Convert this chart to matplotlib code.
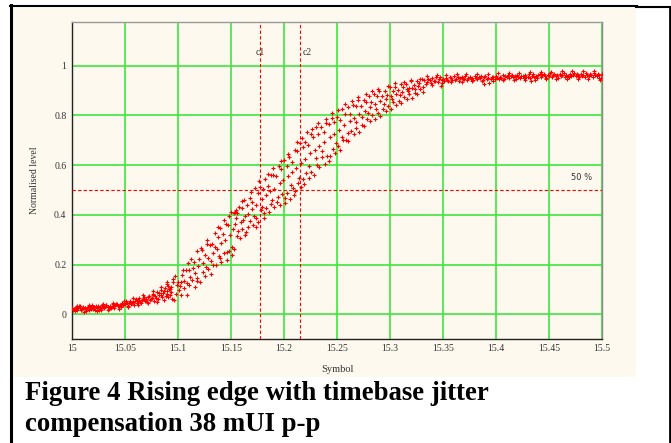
import matplotlib
matplotlib.use("Agg")
import matplotlib.pyplot as plt
from matplotlib.lines import Line2D
from matplotlib.patches import Rectangle

# ---- data -------------------------------------------------------------
# lead-in of the edge (single band)
lead_sym = [
    15.0000, 15.0010, 15.0025, 15.0035, 15.0050, 15.0060, 15.0075, 15.0085,
    15.0100, 15.0110, 15.0125, 15.0135, 15.0150, 15.0160, 15.0175, 15.0185,
    15.0200, 15.0210, 15.0225, 15.0235, 15.0250, 15.0260, 15.0275, 15.0285,
    15.0300, 15.0310, 15.0325, 15.0335, 15.0350, 15.0360, 15.0375, 15.0385,
    15.0400, 15.0410, 15.0425, 15.0435, 15.0450, 15.0460, 15.0475, 15.0485,
    15.0500, 15.0510, 15.0525, 15.0535, 15.0550, 15.0560, 15.0575, 15.0585,
    15.0600, 15.0610, 15.0625, 15.0635, 15.0650, 15.0660, 15.0675, 15.0685,
    15.0700, 15.0710, 15.0725, 15.0735, 15.0750, 15.0760, 15.0775, 15.0785,
    15.0800, 15.0810, 15.0825, 15.0835, 15.0850, 15.0860, 15.0875, 15.0885,
    15.0900, 15.0910, 15.0925, 15.0935,
    15.0018, 15.0043, 15.0068, 15.0093, 15.0118, 15.0143, 15.0168, 15.0193,
    15.0218, 15.0243, 15.0268, 15.0293, 15.0318, 15.0343, 15.0368, 15.0393,
    15.0418, 15.0443, 15.0468, 15.0493, 15.0518, 15.0543, 15.0568, 15.0593,
    15.0618, 15.0643, 15.0668, 15.0693, 15.0718, 15.0743, 15.0768, 15.0793,
    15.0818, 15.0843, 15.0868, 15.0893, 15.0918,
    15.0030, 15.0080, 15.0130, 15.0190, 15.0240, 15.0290, 15.0340, 15.0390,
    15.0440, 15.0490, 15.0530, 15.0580, 15.0620, 15.0670, 15.0720, 15.0760,
    15.0800, 15.0840, 15.0870, 15.0900, 15.0940, 15.0050, 15.0160, 15.0270,
]
lead_level = [
    0.025, 0.018, 0.022, 0.030, 0.016, 0.027, 0.024, 0.019,
    0.031, 0.008, 0.026, 0.020, 0.029, 0.017, 0.023, 0.033,
    0.021, 0.028, 0.035, 0.024, 0.019, 0.030, 0.027, 0.036,
    0.025, 0.033, 0.039, 0.028, 0.022, 0.035, 0.031, 0.040,
    0.027, 0.037, 0.043, 0.032, 0.038, 0.029, 0.045, 0.036,
    0.040, 0.052, 0.034, 0.047, 0.055, 0.041, 0.049, 0.038,
    0.060, 0.046, 0.053, 0.065, 0.044, 0.058, 0.070, 0.052,
    0.063, 0.048, 0.075, 0.058, 0.067, 0.082, 0.055, 0.073,
    0.090, 0.062, 0.078, 0.098, 0.068, 0.085, 0.104, 0.072,
    0.094, 0.115, 0.076, 0.108,
    0.021, 0.027, 0.032, 0.020, 0.027, 0.024, 0.030, 0.026,
    0.018, 0.032, 0.023, 0.030, 0.036, 0.030, 0.026, 0.034,
    0.041, 0.035, 0.040, 0.046, 0.044, 0.050, 0.045, 0.054,
    0.058, 0.051, 0.062, 0.057, 0.068, 0.061, 0.077, 0.066,
    0.084, 0.079, 0.093, 0.083, 0.101,
    0.012, 0.035, 0.014, 0.038, 0.015, 0.041, 0.019, 0.046,
    0.023, 0.055, 0.030, 0.065, 0.036, 0.078, 0.045, 0.092,
    0.050, 0.110, 0.058, 0.128, 0.062, 0.033, 0.036, 0.017,
]

# early-arriving branch of the edge
upper_sym = [
    15.0900, 15.0925, 15.0950, 15.0975, 15.1000, 15.1025, 15.1050, 15.1075,
    15.1100, 15.1125, 15.1150, 15.1175, 15.1200, 15.1225, 15.1250, 15.1275,
    15.1300, 15.1325, 15.1350, 15.1375, 15.1400, 15.1425, 15.1450, 15.1475,
    15.1500, 15.1525, 15.1550, 15.1575, 15.1600, 15.1625, 15.1650, 15.1675,
    15.1700, 15.1725, 15.1750, 15.1775, 15.1800, 15.1825, 15.1850, 15.1875,
    15.1900, 15.1925, 15.1950, 15.1975, 15.2000, 15.2025, 15.2050, 15.2075,
    15.2100, 15.2125, 15.2150, 15.2175, 15.2200, 15.2225, 15.2250, 15.2275,
    15.2300, 15.2325, 15.2350, 15.2375, 15.2400, 15.2425, 15.2450, 15.2475,
    15.2500, 15.2525, 15.2550, 15.2575, 15.2600, 15.2625, 15.2650, 15.2675,
    15.2700, 15.2725, 15.2750, 15.2775, 15.2800, 15.2825, 15.2850, 15.2875,
    15.2900, 15.2925, 15.2950, 15.2975, 15.3000, 15.3025, 15.3050, 15.3075,
    15.3100, 15.3125, 15.3150, 15.3175, 15.3200, 15.3225, 15.3250, 15.3275,
    15.3300,
]
upper_level = [
    0.122, 0.100, 0.129, 0.154, 0.131, 0.129, 0.180, 0.180,
    0.177, 0.222, 0.211, 0.254, 0.223, 0.258, 0.239, 0.281,
    0.280, 0.283, 0.328, 0.312, 0.346, 0.325, 0.365, 0.361,
    0.410, 0.409, 0.387, 0.433, 0.427, 0.458, 0.439, 0.466,
    0.451, 0.507, 0.487, 0.511, 0.504, 0.544, 0.518, 0.560,
    0.561, 0.558, 0.597, 0.585, 0.622, 0.598, 0.632, 0.613,
    0.662, 0.658, 0.689, 0.671, 0.694, 0.682, 0.725, 0.713,
    0.755, 0.725, 0.753, 0.733, 0.771, 0.764, 0.791, 0.772,
    0.792, 0.781, 0.826, 0.807, 0.833, 0.807, 0.842, 0.838,
    0.863, 0.836, 0.860, 0.852, 0.879, 0.854, 0.885, 0.877,
    0.897, 0.879, 0.899, 0.884, 0.915, 0.899, 0.916, 0.902,
    0.926, 0.914, 0.927, 0.912, 0.938, 0.922, 0.939, 0.931,
    0.945,
]

# late-arriving branch of the edge
lower_sym = [
    15.0908, 15.0933, 15.0958, 15.0983, 15.1008, 15.1033, 15.1058, 15.1083,
    15.1108, 15.1133, 15.1158, 15.1183, 15.1208, 15.1233, 15.1258, 15.1283,
    15.1308, 15.1333, 15.1358, 15.1383, 15.1408, 15.1433, 15.1458, 15.1483,
    15.1508, 15.1533, 15.1558, 15.1583, 15.1608, 15.1633, 15.1658, 15.1683,
    15.1708, 15.1733, 15.1758, 15.1783, 15.1808, 15.1833, 15.1858, 15.1883,
    15.1908, 15.1933, 15.1958, 15.1983, 15.2008, 15.2033, 15.2058, 15.2083,
    15.2108, 15.2133, 15.2158, 15.2183, 15.2208, 15.2233, 15.2258, 15.2283,
    15.2308, 15.2333, 15.2358, 15.2383, 15.2408, 15.2433, 15.2458, 15.2483,
    15.2508, 15.2533, 15.2558, 15.2583, 15.2608, 15.2633, 15.2658, 15.2683,
    15.2708, 15.2733, 15.2758, 15.2783, 15.2808, 15.2833, 15.2858, 15.2883,
    15.2908, 15.2933, 15.2958, 15.2983, 15.3008, 15.3033, 15.3058, 15.3083,
    15.3108, 15.3133, 15.3158, 15.3183, 15.3208, 15.3233, 15.3258, 15.3283,
    15.3308,
]
lower_level = [
    0.068, 0.090, 0.058, 0.082, 0.097, 0.076, 0.104, 0.078,
    0.116, 0.138, 0.110, 0.134, 0.131, 0.172, 0.156, 0.183,
    0.162, 0.198, 0.198, 0.234, 0.209, 0.245, 0.219, 0.255,
    0.270, 0.262, 0.313, 0.307, 0.342, 0.317, 0.352, 0.376,
    0.360, 0.387, 0.371, 0.421, 0.407, 0.429, 0.411, 0.458,
    0.432, 0.452, 0.438, 0.482, 0.469, 0.487, 0.463, 0.507,
    0.495, 0.530, 0.512, 0.544, 0.570, 0.550, 0.573, 0.562,
    0.602, 0.593, 0.633, 0.605, 0.638, 0.638, 0.666, 0.648,
    0.675, 0.660, 0.700, 0.701, 0.696, 0.738, 0.724, 0.751,
    0.733, 0.762, 0.756, 0.787, 0.777, 0.800, 0.784, 0.810,
    0.797, 0.826, 0.819, 0.837, 0.825, 0.854, 0.842, 0.859,
    0.848, 0.874, 0.867, 0.886, 0.872, 0.891, 0.885, 0.905,
    0.893,
]

# samples scattered across and between the two branches
mid_sym = [
    15.1015, 15.1060, 15.1110, 15.1160, 15.1190, 15.1240, 15.1285, 15.1330,
    15.1365, 15.1410, 15.1445, 15.1490, 15.1520, 15.1540, 15.1560, 15.1590,
    15.1630, 15.1660, 15.1700, 15.1740, 15.1790, 15.1830, 15.1870, 15.1910,
    15.1960, 15.1990, 15.2035, 15.2080, 15.2110, 15.2160, 15.2200, 15.2245,
    15.2290, 15.2330, 15.2380, 15.2430, 15.2470, 15.2520, 15.2570, 15.2620,
    15.2660, 15.2710, 15.2760, 15.2810, 15.2860, 15.2910, 15.2960, 15.3010,
    15.3060, 15.3110, 15.3160, 15.3210, 15.3260,
    15.0955, 15.0990, 15.1035, 15.1085, 15.1095, 15.1140, 15.1180, 15.1215,
    15.1260, 15.1270, 15.1310, 15.1345, 15.1380, 15.1395, 15.1430, 15.1460,
    15.1480, 15.1510, 15.1535, 15.1545, 15.1570, 15.1600, 15.1615, 15.1645,
    15.1690, 15.1715, 15.1735, 15.1765, 15.1795, 15.1815, 15.1845, 15.1880,
    15.1895, 15.1940, 15.1970, 15.2010, 15.2040, 15.2065, 15.2090, 15.2120,
    15.2140, 15.2170, 15.2190, 15.2215, 15.2240, 15.2265, 15.2300, 15.2320,
    15.2360, 15.2395, 15.2420, 15.2455, 15.2490, 15.2510, 15.2545, 15.2580,
    15.2600, 15.2640, 15.2680, 15.2700, 15.2740, 15.2770, 15.2790, 15.2830,
    15.2870, 15.2890, 15.2940, 15.2980, 15.3020, 15.3050, 15.3090, 15.3130,
    15.3170, 15.3200, 15.3240, 15.3280, 15.3310,
]
mid_level = [
    0.112, 0.135, 0.152, 0.168, 0.195, 0.205, 0.228, 0.245,
    0.262, 0.285, 0.300, 0.318, 0.345, 0.412, 0.408, 0.372,
    0.395, 0.405, 0.425, 0.441, 0.462, 0.478, 0.495, 0.505,
    0.528, 0.540, 0.555, 0.571, 0.590, 0.608, 0.625, 0.648,
    0.662, 0.678, 0.695, 0.712, 0.725, 0.741, 0.760, 0.776,
    0.790, 0.805, 0.818, 0.832, 0.846, 0.858, 0.866, 0.878,
    0.888, 0.896, 0.905, 0.910, 0.918,
    0.142, 0.118, 0.160, 0.125, 0.205, 0.185, 0.148, 0.265,
    0.190, 0.300, 0.215, 0.272, 0.350, 0.228, 0.378, 0.252,
    0.395, 0.238, 0.365, 0.420, 0.335, 0.455, 0.380, 0.330,
    0.490, 0.395, 0.352, 0.535, 0.430, 0.388, 0.565, 0.445,
    0.590, 0.470, 0.615, 0.448, 0.645, 0.520, 0.478, 0.695,
    0.548, 0.710, 0.525, 0.735, 0.598, 0.745, 0.628, 0.770,
    0.655, 0.785, 0.615, 0.808, 0.690, 0.820, 0.715, 0.845,
    0.728, 0.858, 0.772, 0.876, 0.795, 0.888, 0.808, 0.898,
    0.825, 0.908, 0.845, 0.918, 0.868, 0.930, 0.882, 0.936,
    0.898, 0.942, 0.905, 0.948, 0.915,
]

# settled level after the edge
plateau_sym = [
    15.3325, 15.3337, 15.3350, 15.3362, 15.3375, 15.3387, 15.3400, 15.3412,
    15.3425, 15.3437, 15.3450, 15.3462, 15.3475, 15.3487, 15.3500, 15.3512,
    15.3525, 15.3537, 15.3550, 15.3562, 15.3575, 15.3587, 15.3600, 15.3612,
    15.3625, 15.3637, 15.3650, 15.3662, 15.3675, 15.3687, 15.3700, 15.3712,
    15.3725, 15.3737, 15.3750, 15.3762, 15.3775, 15.3787, 15.3800, 15.3812,
    15.3825, 15.3837, 15.3850, 15.3862, 15.3875, 15.3887, 15.3900, 15.3912,
    15.3925, 15.3937, 15.3950, 15.3962, 15.3975, 15.3987, 15.4000, 15.4012,
    15.4025, 15.4037, 15.4050, 15.4062, 15.4075, 15.4087, 15.4100, 15.4112,
    15.4125, 15.4137, 15.4150, 15.4162, 15.4175, 15.4187, 15.4200, 15.4212,
    15.4225, 15.4237, 15.4250, 15.4262, 15.4275, 15.4287, 15.4300, 15.4312,
    15.4325, 15.4337, 15.4350, 15.4362, 15.4375, 15.4387, 15.4400, 15.4412,
    15.4425, 15.4437, 15.4450, 15.4462, 15.4475, 15.4487, 15.4500, 15.4512,
    15.4525, 15.4537, 15.4550, 15.4562, 15.4575, 15.4587, 15.4600, 15.4612,
    15.4625, 15.4637, 15.4650, 15.4662, 15.4675, 15.4687, 15.4700, 15.4712,
    15.4725, 15.4737, 15.4750, 15.4762, 15.4775, 15.4787, 15.4800, 15.4812,
    15.4825, 15.4837, 15.4850, 15.4862, 15.4875, 15.4887, 15.4900, 15.4912,
    15.4925, 15.4937, 15.4950, 15.4962, 15.4975, 15.4987, 15.5000,
    15.3345, 15.3395, 15.3440, 15.3490, 15.3530, 15.3580, 15.3630, 15.3680,
    15.3720, 15.3770, 15.3820, 15.3870, 15.3920, 15.3970, 15.4020, 15.4070,
    15.4120, 15.4170, 15.4220, 15.4270, 15.4320, 15.4370, 15.4420, 15.4470,
    15.4520, 15.4570, 15.4620, 15.4670, 15.4720, 15.4770, 15.4820, 15.4870,
    15.4920, 15.4970, 15.3480, 15.3890, 15.4330, 15.4980,
]
plateau_level = [
    0.941, 0.926, 0.933, 0.948, 0.944, 0.930, 0.951, 0.937,
    0.940, 0.953, 0.934, 0.947, 0.955, 0.941, 0.946, 0.937,
    0.952, 0.943, 0.939, 0.956, 0.949, 0.944, 0.957, 0.942,
    0.946, 0.953, 0.940, 0.950, 0.955, 0.945, 0.948, 0.959,
    0.943, 0.952, 0.956, 0.947, 0.951, 0.941, 0.958, 0.949,
    0.945, 0.954, 0.950, 0.960, 0.944, 0.953, 0.957, 0.948,
    0.952, 0.931, 0.947, 0.956, 0.953, 0.945, 0.959, 0.950,
    0.946, 0.955, 0.952, 0.961, 0.948, 0.957, 0.954, 0.963,
    0.950, 0.958, 0.962, 0.953, 0.957, 0.947, 0.964, 0.955,
    0.951, 0.960, 0.958, 0.949, 0.963, 0.954, 0.956, 0.966,
    0.952, 0.960, 0.965, 0.955, 0.959, 0.950, 0.962, 0.968,
    0.954, 0.961, 0.966, 0.957, 0.952, 0.963, 0.960, 0.969,
    0.955, 0.962, 0.967, 0.958, 0.961, 0.952, 0.965, 0.957,
    0.962, 0.970, 0.956, 0.964, 0.960, 0.953, 0.967, 0.959,
    0.963, 0.971, 0.957, 0.965, 0.961, 0.954, 0.968, 0.960,
    0.964, 0.956, 0.970, 0.962, 0.958, 0.966, 0.963, 0.955,
    0.969, 0.961, 0.957, 0.967, 0.962, 0.950, 0.966,
    0.957, 0.922, 0.961, 0.929, 0.962, 0.934, 0.965, 0.936,
    0.967, 0.938, 0.966, 0.937, 0.968, 0.940, 0.970, 0.941,
    0.971, 0.943, 0.972, 0.942, 0.974, 0.944, 0.975, 0.946,
    0.976, 0.947, 0.977, 0.945, 0.978, 0.948, 0.977, 0.947,
    0.979, 0.949, 0.917, 0.928, 0.939, 0.944,
]

# cursors and reference level
cursor_c1 = 15.1777
cursor_c2 = 15.2155
half_level = 0.5

x_ticks = [15.0, 15.05, 15.1, 15.15, 15.2, 15.25, 15.3, 15.35, 15.4, 15.45, 15.5]
x_tick_labels = ["15", "15.05", "15.1", "15.15", "15.2", "15.25", "15.3",
                 "15.35", "15.4", "15.45", "15.5"]
y_ticks = [0.0, 0.2, 0.4, 0.6, 0.8, 1.0]
y_tick_labels = ["0", "0.2", "0.4", "0.6", "0.8", "1"]

caption_lines = ["Figure 4 Rising edge with timebase jitter",
                 "compensation 38 mUI p-p"]

# ---- figure -----------------------------------------------------------
W, H = 671, 443
CREAM = "#fdf9ee"
GRID = "#3fe63f"
SERIF = "Liberation Serif"

fig = plt.figure(figsize=(W / 100, H / 100), dpi=100)
fig.patch.set_facecolor("white")


def fx(px):
    return px / W


def fy(py):
    return 1 - py / H


# panel background
fig.add_artist(Rectangle((fx(12), fy(377)), fx(636) - fx(12), fy(8) - fy(377),
                         transform=fig.transFigure, facecolor=CREAM,
                         edgecolor="none", zorder=0))
# cell borders
for xs, ys, lw in [
    ([10.5, 10.5], [5, 443], 2.2),
    ([9.5, 637], [5.5, 5.5], 1.5),
    ([636, 671], [7, 7], 1.5),
    ([669.5, 669.5], [6.5, 443], 2.0),
]:
    fig.add_artist(Line2D([fx(v) for v in xs], [fy(v) for v in ys],
                          transform=fig.transFigure, color="black", lw=lw))

ax = fig.add_axes([fx(72), fy(339), fx(602) - fx(72), fy(22) - fy(339)])
ax.set_facecolor(CREAM)
ax.set_xlim(15.0, 15.5)
ax.set_ylim(-0.0993, 1.1757)

ax.set_xticks(x_ticks)
ax.set_xticklabels(x_tick_labels, family=SERIF, fontsize=7, color="#333333")
ax.set_yticks(y_ticks)
ax.set_yticklabels(y_tick_labels, family=SERIF, fontsize=7, color="#333333")
ax.tick_params(axis="both", length=0)
ax.tick_params(axis="x", pad=3.5)
ax.tick_params(axis="y", pad=4)
ax.grid(True, color=GRID, lw=1.2)
ax.set_axisbelow(True)

for side, col in [("left", "#222222"), ("bottom", "#222222"),
                  ("right", "#8a8a8a"), ("top", "#9a9a9a")]:
    ax.spines[side].set_color(col)
    ax.spines[side].set_linewidth(1.0)

dash = (0, (3, 2))
ax.axvline(cursor_c1, color="red", lw=0.8, ls=dash, zorder=3)
ax.axvline(cursor_c2, color="red", lw=0.8, ls=dash, zorder=3)
ax.axhline(half_level, color="red", lw=0.8, ls=dash, zorder=3)

ax.text(cursor_c1, 1.052, "c1", ha="center", va="center", family=SERIF,
        fontsize=7, color="#333333")
ax.text(cursor_c2 + 0.002, 1.052, "c2", ha="left", va="center", family=SERIF,
        fontsize=7, color="#333333")
ax.text(15.471, 0.552, "50 %", ha="left", va="center", family="DejaVu Sans",
        fontsize=6, color="#333333")

for xs, ys in [(lead_sym, lead_level), (upper_sym, upper_level),
               (lower_sym, lower_level), (mid_sym, mid_level),
               (plateau_sym, plateau_level)]:
    ax.plot(xs, ys, ls="none", marker="+", ms=2.6, mew=0.8, color="red",
            zorder=4)

ax.set_xlabel("Symbol", family=SERIF, fontsize=7.5, color="#333333",
              labelpad=9)
ax.set_ylabel("Normalised level", family=SERIF, fontsize=7, color="#333333",
              labelpad=11)

fig.text(fx(25), fy(400), caption_lines[0], family=SERIF, weight="bold",
         fontsize=19.3, va="baseline", ha="left", color="black")
fig.text(fx(25), fy(431), caption_lines[1], family=SERIF, weight="bold",
         fontsize=19.3, va="baseline", ha="left", color="black")

fig.savefig("out.png", dpi=100, facecolor="white")
